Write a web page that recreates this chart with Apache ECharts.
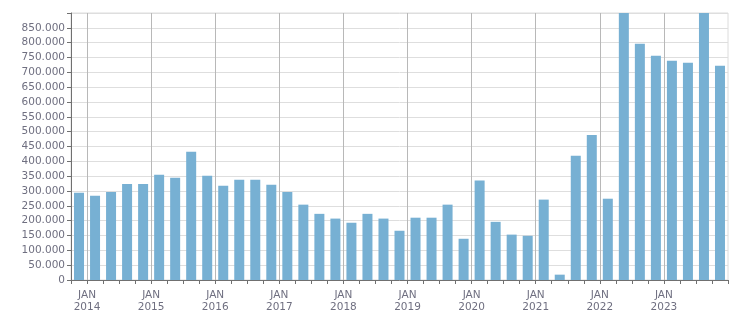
<!DOCTYPE html>
<html>
<head>
<meta charset="utf-8">
<script src="https://cdn.jsdelivr.net/npm/echarts@6/dist/echarts.min.js"></script>
<style>
	html, body { margin: 0; padding: 0; background: #fff; }
	#main { width: 751px; height: 313px; }
</style>
</head>
<body>
<div id="main"></div>
<script>
// quarters shown as bars, Q4 2013 .. Q4 2023
var quarters = ['2013 Q4',
	'2014 Q1', '2014 Q2', '2014 Q3', '2014 Q4',
	'2015 Q1', '2015 Q2', '2015 Q3', '2015 Q4',
	'2016 Q1', '2016 Q2', '2016 Q3', '2016 Q4',
	'2017 Q1', '2017 Q2', '2017 Q3', '2017 Q4',
	'2018 Q1', '2018 Q2', '2018 Q3', '2018 Q4',
	'2019 Q1', '2019 Q2', '2019 Q3', '2019 Q4',
	'2020 Q1', '2020 Q2', '2020 Q3', '2020 Q4',
	'2021 Q1', '2021 Q2', '2021 Q3', '2021 Q4',
	'2022 Q1', '2022 Q2', '2022 Q3', '2022 Q4',
	'2023 Q1', '2023 Q2', '2023 Q3', '2023 Q4'];

var values = [294000,
	284000, 297000, 324000, 324000,
	355000, 345000, 432000, 351000,
	318000, 338000, 338000, 321000,
	297000, 254000, 223000, 207000,
	193000, 223000, 207000, 166000,
	210000, 210000, 254000, 139000,
	335000, 196000, 153000, 149000,
	271000, 18000, 419000, 489000,
	274000, 900000, 796000, 756000,
	739000, 732000, 900000, 722000];

// year labels sit on the quarter boundaries (JAN)
var years = [2014, 2015, 2016, 2017, 2018, 2019, 2020, 2021, 2022, 2023];
var yTicks = { min: 0, max: 900000, step: 50000 };

var boundaries = [];
for (var i = 0; i <= quarters.length; i++) {
	var y = years[(i - 1) / 4];
	boundaries.push((i % 4 === 1 && y) ? 'JAN\n' + y : '');
}

function isJan(index) {
	return index % 4 === 1 && index < quarters.length;
}

function fmt(v) {
	if (v === yTicks.max) return '';
	return String(v).replace(/\B(?=(\d{3})+(?!\d))/g, '.');
}

var txt = '#6f6f80';
var myChart = echarts.init(document.getElementById('main'));
var option = {
	animation: false,
	grid: {
		left: 71, right: 23, top: 13, bottom: 33,
		show: true, borderColor: '#dcdcdc', borderWidth: 1
	},
	xAxis: [{
		type: 'category',
		data: quarters,
		boundaryGap: true,
		axisLine: { lineStyle: { color: '#707070' } },
		axisTick: { show: false },
		axisLabel: { show: false },
		splitLine: { show: false }
	}, {
		type: 'category',
		data: boundaries,
		boundaryGap: false,
		position: 'bottom',
		axisLine: { show: false },
		axisTick: { show: true, interval: 0, length: 4, lineStyle: { color: '#707070' } },
		axisLabel: {
			interval: isJan,
			color: txt,
			fontFamily: 'DejaVu Sans',
			fontSize: 10.5,
			lineHeight: 12,
			margin: 9
		},
		splitLine: {
			show: true,
			interval: isJan,
			lineStyle: { color: '#b8b8b8', width: 1 }
		}
	}],
	yAxis: {
		type: 'value',
		min: yTicks.min,
		max: yTicks.max,
		interval: yTicks.step,
		axisLine: { show: true, lineStyle: { color: '#707070' } },
		axisTick: { show: true, length: 4, lineStyle: { color: '#707070' } },
		axisLabel: {
			formatter: fmt,
			color: txt,
			fontFamily: 'DejaVu Sans',
			fontSize: 10.5,
			margin: 6
		},
		splitLine: { lineStyle: { color: '#dedede' } }
	},
	series: [{
		type: 'bar',
		xAxisIndex: 0,
		data: values,
		barWidth: 10,
		itemStyle: { color: '#77b0d3' }
	}]
};
myChart.setOption(option);
</script>
</body>
</html>
